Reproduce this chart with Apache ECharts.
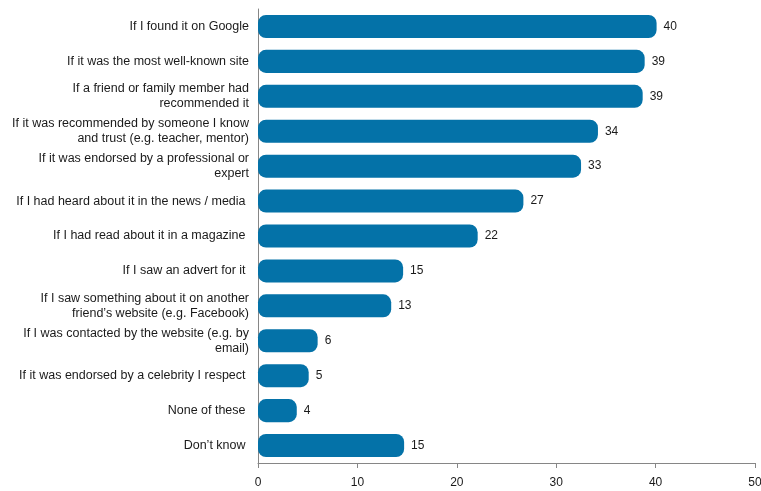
<!DOCTYPE html>
<html>
<head>
<meta charset="utf-8">
<script src="https://cdn.jsdelivr.net/npm/echarts@6/dist/echarts.min.js"></script>
<style>html,body{margin:0;padding:0;background:#fff;}#c{width:761px;height:491px;}</style>
</head>
<body>
<div id="c"></div>
<script>
const categories = [
  "If I found it on Google",
  "If it was the most well-known site",
  "If a friend or family member had\nrecommended it",
  "If it was recommended by someone I know\nand trust (e.g. teacher, mentor)",
  "If it was endorsed by a professional or\nexpert",
  "If I had heard about it in the news / media ",
  "If I had read about it in a magazine ",
  "If I saw an advert for it ",
  "If I saw something about it on another\nfriend’s website (e.g. Facebook)",
  "If I was contacted by the website (e.g. by\nemail)",
  "If it was endorsed by a celebrity I respect ",
  "None of these ",
  "Don’t know "
];
const values = [40.1, 38.9, 38.7, 34.2, 32.5, 26.7, 22.1, 14.6, 13.4, 6.0, 5.1, 3.9, 14.7];
const xTicks = [0, 10, 20, 30, 40, 50];

const chart = echarts.init(document.getElementById('c'));
chart.setOption({
  animation: false,
  grid: {left: 258, right: 6, top: 9, bottom: 28, containLabel: false, outerBoundsMode: 'none'},
  xAxis: {
    type: 'value', min: xTicks[0], max: xTicks[xTicks.length-1], interval: 10,
    axisLine: {show: true, lineStyle: {color: '#868686', width: 1}},
    axisTick: {show: true, length: 5, lineStyle: {color: '#868686'}},
    splitLine: {show: false},
    axisLabel: {color: '#1a1a1a', fontSize: 12, fontFamily: 'Liberation Sans, Arial, sans-serif', margin: 14}
  },
  yAxis: {
    type: 'category', data: categories, inverse: true,
    axisLine: {show: true, lineStyle: {color: '#868686', width: 1}},
    axisTick: {show: false},
    axisLabel: {color: '#1a1a1a', fontSize: 12.5, lineHeight: 15, fontFamily: 'Liberation Sans, Arial, sans-serif', margin: 9}
  },
  series: [{
    type: 'bar', data: values, barCategoryGap: '34%',
    itemStyle: {color: '#0472a8', borderRadius: 8},
    label: {show: true, position: 'right', distance: 7, color: '#1a1a1a', fontSize: 12,
      fontFamily: 'Liberation Sans, Arial, sans-serif',
      formatter: p => Math.round(p.value)}
  }]
});
</script>
</body>
</html>
